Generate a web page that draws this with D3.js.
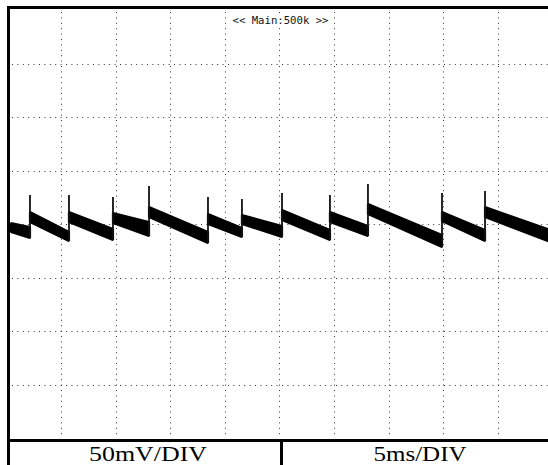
<!DOCTYPE html>
<html>
<head>
<meta charset="utf-8">
<script src="https://cdn.jsdelivr.net/npm/d3@7/dist/d3.min.js"></script>
<style>
	body { margin: 0; background: #fff; }
	svg { display: block; }
</style>
</head>
<body>
<div id="chart-area"></div>
<script>
// Scope settings (time in ms, voltage in mV)
let timeDivs = [5, 10, 15, 20, 25, 30, 35, 40, 45];
let voltDivs = [-150, -100, -50, 0, 50, 100, 150];
let headerLabel = "<< Main:500k >>";
let voltLabel = "50mV/DIV";
let timeLabel = "5ms/DIV";

// Sawtooth trace
let traceStart = 0.42,
	traceEnd = 49.8;
let jumpTimes = [2.16, 5.73, 9.76, 13.06, 18.46, 21.57, 25.24, 29.63, 33.11, 39.89, 43.83];
let spikePeaks = [27.1, 27.1, 25.2, 35.5, 25.2, 23.4, 29.0, 27.1, 37.4, 29.0, 30.8];
let rampStartTop = [0.9, 11.2, 11.2, 10.3, 15.9, 9.3, 8.4, 13.1, 11.2, 18.7, 11.2, 15.9];
let rampStartBottom = [-7.5, 1.9, 1.9, 0.9, 6.5, 0, 0, 3.7, 1.9, 9.3, 2.8, 6.5];
let rampEndTop = [-2.8, -7.5, -4.7, 1.9, -7.5, -3.7, -1.9, -5.6, -1.9, -10.3, -5.6, -5.6];
let rampEndBottom = [-13.1, -15.9, -15.0, -11.2, -17.8, -12.1, -12.1, -15.0, -11.2, -21.5, -15.9, -16.8];

let width = 548,
	height = 465;

let svg = d3.select("#chart-area").append("svg")
	.attr("width", width)
	.attr("height", height);

// Screen scales: 10 x 8 divisions
let x = d3.scaleLinear().domain([0, 50]).range([6.4, 552.4]);
let y = d3.scaleLinear().domain([-200, 200]).range([438, 10]);

svg.append("clipPath").attr("id", "screen")
	.append("rect")
	.attr("x", 10).attr("y", 9)
	.attr("width", width - 10).attr("height", 430);

let screen = svg.append("g").attr("clip-path", "url(#screen)");

// Dotted grid
screen.selectAll(".vgrid")
	.data(timeDivs)
	.enter()
	.append("line")
	.attr("class", "vgrid")
	.attr("x1", d => Math.round(x(d)) + 0.5)
	.attr("x2", d => Math.round(x(d)) + 0.5)
	.attr("y1", 12)
	.attr("y2", 438)
	.attr("stroke", "#333")
	.attr("stroke-width", 1)
	.attr("stroke-dasharray", "1,4.4");

screen.selectAll(".hgrid")
	.data(voltDivs)
	.enter()
	.append("line")
	.attr("class", "hgrid")
	.attr("x1", 12)
	.attr("x2", width)
	.attr("y1", d => Math.round(y(d)) + 0.5)
	.attr("y2", d => Math.round(y(d)) + 0.5)
	.attr("stroke", "#333")
	.attr("stroke-width", 1)
	.attr("stroke-dasharray", "1,4.4");

// Trace ramps
let segments = rampStartTop.map((d, i) => ({
	t0: i === 0 ? traceStart : jumpTimes[i - 1],
	t1: i < jumpTimes.length ? jumpTimes[i] : traceEnd,
	top0: d,
	bot0: rampStartBottom[i],
	top1: rampEndTop[i],
	bot1: rampEndBottom[i]
}));

let area = d3.area()
	.x(d => x(d.t))
	.y0(d => y(d.bot))
	.y1(d => y(d.top));

screen.selectAll(".ramp")
	.data(segments)
	.enter()
	.append("path")
	.attr("class", "ramp")
	.attr("d", d => area([
		{t: d.t0, top: d.top0, bot: d.bot0},
		{t: d.t1, top: d.top1, bot: d.bot1}
	]))
	.attr("fill", "#000")
	.attr("stroke", "#000")
	.attr("stroke-width", 2.2)
	.attr("stroke-linejoin", "bevel");

// Spikes at each jump
screen.selectAll(".spike")
	.data(jumpTimes)
	.enter()
	.append("line")
	.attr("class", "spike")
	.attr("x1", d => x(d))
	.attr("x2", d => x(d))
	.attr("y1", (d, i) => y(rampEndBottom[i]))
	.attr("y2", (d, i) => y(spikePeaks[i]))
	.attr("stroke", "#111")
	.attr("stroke-width", 1.8);

// Header label
let header = svg.append("g");
header.append("rect")
	.attr("x", 230).attr("y", 13)
	.attr("width", 101).attr("height", 13)
	.attr("fill", "#fff");
header.append("text")
	.attr("x", 280.5)
	.attr("y", 23.5)
	.attr("text-anchor", "middle")
	.attr("font-family", "DejaVu Sans Mono, monospace")
	.attr("font-size", 10.5)
	.attr("textLength", 96)
	.attr("lengthAdjust", "spacingAndGlyphs")
	.attr("fill", "#111")
	.text(headerLabel);

// Frame
let frame = svg.append("g").attr("stroke", "#000").attr("stroke-width", 3);
frame.append("line").attr("x1", 7).attr("x2", width).attr("y1", 7.5).attr("y2", 7.5);
frame.append("line").attr("x1", 8.5).attr("x2", 8.5).attr("y1", 6).attr("y2", height);
frame.append("line").attr("x1", 7).attr("x2", width).attr("y1", 440.5).attr("y2", 440.5);
frame.append("line").attr("x1", 281.5).attr("x2", 281.5).attr("y1", 440).attr("y2", height);

// Bottom labels
svg.append("text")
	.attr("x", 148)
	.attr("y", 461)
	.attr("text-anchor", "middle")
	.attr("font-family", "Liberation Serif, Times New Roman, serif")
	.attr("font-size", 22)
	.attr("textLength", 118)
	.attr("lengthAdjust", "spacingAndGlyphs")
	.text(voltLabel);

svg.append("text")
	.attr("x", 420)
	.attr("y", 461)
	.attr("text-anchor", "middle")
	.attr("font-family", "Liberation Serif, Times New Roman, serif")
	.attr("font-size", 22)
	.attr("textLength", 93)
	.attr("lengthAdjust", "spacingAndGlyphs")
	.text(timeLabel);
</script>
</body>
</html>
